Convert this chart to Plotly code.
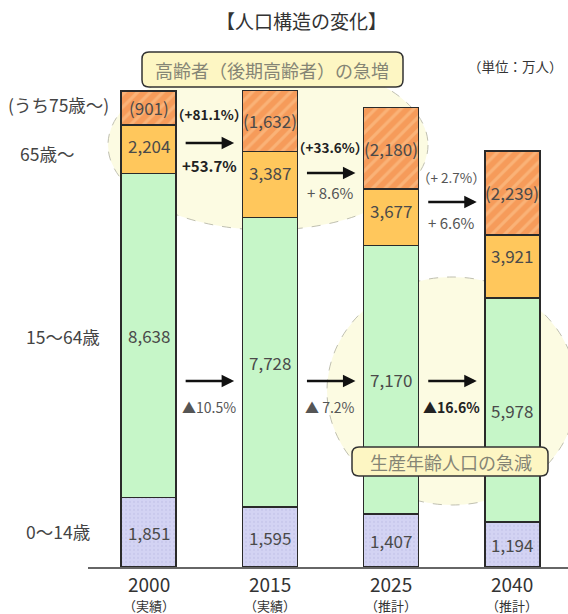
import plotly.graph_objects as go

# ---------------- data ----------------
years = ["2000", "2015", "2025", "2040"]
year_notes = ["（実績）", "（実績）", "（推計）", "（推計）"]
age_0_14 = [1851, 1595, 1407, 1194]
age_15_64 = [8638, 7728, 7170, 5978]
age_65_plus = [2204, 3387, 3677, 3921]
age_75_plus = [901, 1632, 2180, 2239]
elderly_change = ["+53.7%", "+ 8.6%", "+ 6.6%"]
old75_change = ["（+81.1%）", "（+33.6%）", "（+ 2.7%）"]
working_change = ["▲10.5%", "▲ 7.2%", "▲16.6%"]
left_labels = ["(うち75歳～)", "65歳～", "15～64歳", "0～14歳"]

FONT = "Noto Sans CJK JP"

# ---------------- geometry helpers ----------------
W, H = 568, 614
PL, PR, PT, PB = 88, 568, 40, 567
PX_PER_UNIT = 0.0375
CAT_STEP = 121.3
CAT0 = 148.5


def fx(px):
    return (px - PL) / (PR - PL)


def fy(py):
    return (PB - py) / (PB - PT)


xs = list(range(len(years)))
age_65_74 = [a - b for a, b in zip(age_65_plus, age_75_plus)]
bw = 55 / CAT_STEP

fig = go.Figure()
line = dict(color="#2a2a2a", width=1.5)
fig.add_trace(go.Bar(x=xs, y=age_0_14, width=bw, name="0～14歳",
                     marker=dict(color="#d3d3f3", line=line,
                                 pattern=dict(shape=".", fgcolor="#bdbde6", bgcolor="#d3d3f3",
                                              size=4, solidity=0.25))))
fig.add_trace(go.Bar(x=xs, y=age_15_64, width=bw, name="15～64歳",
                     marker=dict(color="#c6f6c8", line=line)))
fig.add_trace(go.Bar(x=xs, y=age_65_74, width=bw, name="65～74歳",
                     marker=dict(color="#ffc75c", line=line)))
fig.add_trace(go.Bar(x=xs, y=age_75_plus, width=bw, name="75歳～",
                     marker=dict(color="#f69b5a", line=line,
                                 pattern=dict(shape="/", fgcolor="#fdca94", bgcolor="#f69b5a",
                                              size=9, solidity=0.35))))

ann = []
shapes = []

# segment labels
for i in xs:
    y0 = age_0_14[i]
    y1 = y0 + age_15_64[i]
    y2 = y1 + age_65_74[i]
    y3 = y2 + age_75_plus[i]
    tc = "#4a4a4a"
    ann.append(dict(x=i, y=y0 / 2, xref="x", yref="y", text=f"{age_0_14[i]:,}", showarrow=False,
                    font=dict(size=17, color=tc, family=FONT)))
    ann.append(dict(x=i, y=(y0 + y1) / 2, xref="x", yref="y", text=f"{age_15_64[i]:,}", showarrow=False,
                    font=dict(size=17, color=tc, family=FONT)))
    ann.append(dict(x=i, y=y2, xref="x", yref="y", yshift=-21, text=f"{age_65_plus[i]:,}", showarrow=False,
                    font=dict(size=17, color=tc, family=FONT)))
    ann.append(dict(x=i, y=(y2 + y3) / 2, xref="x", yref="y", text=f"({age_75_plus[i]:,})", showarrow=False,
                    font=dict(size=17, color=tc, family=FONT)))
    # year labels
    ann.append(dict(x=i, y=fy(583), xref="x", yref="paper", text=years[i], showarrow=False,
                    font=dict(size=19, color="#333", family=FONT)))
    ann.append(dict(x=i, y=fy(605), xref="x", yref="paper", text=year_notes[i], showarrow=False,
                    font=dict(size=13, color="#333", family=FONT)))

# arrows & change labels
eld_arrow_y = [143, 173, 202]
old_lbl_y = [114, 147, 177]
eld_lbl_y = [165, 193, 222]
for k in range(3):
    xc = k + 0.5
    bold_e = k == 0
    ann.append(dict(x=xc + 25 / CAT_STEP, y=fy(eld_arrow_y[k]), xref="x", yref="paper",
                    ax=-50, ay=0, text="", showarrow=True, arrowhead=2, arrowsize=1,
                    arrowwidth=2.5, arrowcolor="#111"))
    ann.append(dict(x=xc, y=fy(old_lbl_y[k]), xref="x", yref="paper",
                    text=(f"<b>{old75_change[k]}</b>" if k < 2 else old75_change[k]),
                    showarrow=False, font=dict(size=13.5, color="#222" if k < 2 else "#555", family=FONT)))
    ann.append(dict(x=xc, y=fy(eld_lbl_y[k]), xref="x", yref="paper",
                    text=(f"<b>{elderly_change[k]}</b>" if bold_e else elderly_change[k]),
                    showarrow=False, font=dict(size=15, color="#222" if bold_e else "#555", family=FONT)))
    # working-age
    ann.append(dict(x=xc + 25 / CAT_STEP, y=fy(381), xref="x", yref="paper",
                    ax=-50, ay=0, text="", showarrow=True, arrowhead=2, arrowsize=1,
                    arrowwidth=2.5, arrowcolor="#111"))
    bold_w = k == 2
    ann.append(dict(x=xc, y=fy(407), xref="x", yref="paper",
                    text=(f"<b>{working_change[k]}</b>" if bold_w else working_change[k]),
                    showarrow=False, font=dict(size=14, color="#222" if bold_w else "#555", family=FONT)))

# left labels
left_y = [105, 153, 336, 531]
left_x = [6, 18, 24, 24]
for t, lx, ly in zip(left_labels, left_x, left_y):
    ann.append(dict(x=fx(lx), y=fy(ly), xref="paper", yref="paper", text=t, showarrow=False,
                    xanchor="left", font=dict(size=17.5, color="#444", family=FONT)))

# title & unit
ann.append(dict(x=fx(301), y=fy(21), xref="paper", yref="paper", text="【人口構造の変化】", showarrow=False,
                font=dict(size=19, color="#333", family=FONT)))
ann.append(dict(x=fx(565), y=fy(66), xref="paper", yref="paper", text="（単位：万人）", showarrow=False,
                xanchor="right", font=dict(size=13.5, color="#333", family=FONT)))

# background ellipses
shapes.append(dict(type="circle", xref="paper", yref="paper", x0=fx(108), x1=fx(428), y0=fy(230), y1=fy(60),
                   fillcolor="#fcfbe2", line=dict(color="#c0c0b0", width=1, dash="dash"), layer="below"))
shapes.append(dict(type="circle", xref="paper", yref="paper", x0=fx(327), x1=fx(577), y0=fy(505), y1=fy(277),
                   fillcolor="#fcfbe2", line=dict(color="#c0c0b0", width=1, dash="dash"), layer="below"))


def rrect(x0, y0, x1, y1, r=7):
    X0, X1 = fx(x0), fx(x1)
    Y0, Y1 = fy(y0), fy(y1)  # Y0 top (larger), Y1 bottom
    rx = r / (PR - PL)
    ry = r / (PB - PT)
    return (f"M {X0+rx},{Y0} L {X1-rx},{Y0} Q {X1},{Y0} {X1},{Y0-ry} "
            f"L {X1},{Y1+ry} Q {X1},{Y1} {X1-rx},{Y1} L {X0+rx},{Y1} "
            f"Q {X0},{Y1} {X0},{Y1+ry} L {X0},{Y0-ry} Q {X0},{Y0} {X0+rx},{Y0} Z")


shapes.append(dict(type="path", xref="paper", yref="paper", path=rrect(142, 52, 403, 87),
                   fillcolor="#fdf6c3", line=dict(color="#333", width=1.5), layer="above"))
shapes.append(dict(type="path", xref="paper", yref="paper", path=rrect(352, 447, 548, 476),
                   fillcolor="#fdf6c3", line=dict(color="#333", width=1.5), layer="above"))
ann.append(dict(x=fx(272), y=fy(70), xref="paper", yref="paper", text="高齢者（後期高齢者）の急増", showarrow=False,
                font=dict(size=18, color="#858575", family=FONT)))
ann.append(dict(x=fx(451), y=fy(462), xref="paper", yref="paper", text="生産年齢人口の急減", showarrow=False,
                font=dict(size=18, color="#858575", family=FONT)))

for a in ann:
    a.setdefault("xanchor", "center")
    a.setdefault("yanchor", "middle")

fig.update_layout(
    width=W, height=H, barmode="stack", showlegend=False,
    margin=dict(l=PL, r=W - PR, t=PT, b=H - PB, pad=0),
    paper_bgcolor="white", plot_bgcolor="rgba(0,0,0,0)",
    xaxis=dict(range=[-(CAT0 - PL) / CAT_STEP, (PR - CAT0) / CAT_STEP], showticklabels=False,
               showgrid=False, zeroline=False, showline=True, linecolor="#666", linewidth=1.5,
               ticks="", fixedrange=True),
    yaxis=dict(range=[0, (PB - PT) / PX_PER_UNIT], visible=False, fixedrange=True),
    annotations=ann, shapes=shapes,
    font=dict(family=FONT),
)

fig.write_html("out.html", config={"displayModeBar": False})
